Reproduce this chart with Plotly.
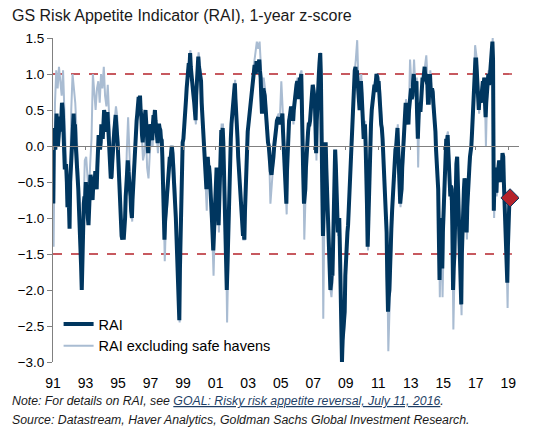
import pandas as pd
import plotly.graph_objects as go

# Readings from the chart, Jan 1991 - Feb 2019 (1-year z-score).
# rai: first-half-of-month reading; rai_late: second-half-of-month reading.
rai = [
    -0.8, 0.1, 0.27, 0.2, 0.13, 0.41, 0.45, 0.5, 0.0, -0.3, -0.5, -0.8,        # 1991
    -1.15, -0.3, 0.1, 0.45, 0.3, -0.1, -0.5, -0.9, -1.5, -2.0, -1.2, -0.7,     # 1992
    -0.5, -0.85, -1.1, -0.6, -0.45, -0.75, -0.5, -0.35, -0.6, -0.1, 0.1, 0.05, # 1993
    0.25, 0.35, 0.45, 0.2, 0.47, 0.1, -0.3, -0.43, -0.15, 0.2, 0.43, 0.2,      # 1994
    -0.2, -0.6, -1.15, -1.3, -1.3, -1.0, -0.5, -0.2, -0.45, -0.7, -1.0, -0.5,  # 1995
    -0.15, 0.2, 0.45, 0.68, 0.7, 0.4, 0.05, 0.3, 0.5, 0.2, -0.1, 0.15,         # 1996
    0.27, 0.08, 0.43, 0.5, 0.2, 0.04, 0.31, 0.22, 0.08, -0.5, -1.3, -0.9,      # 1997
    -0.7, -0.35, -0.15, -0.08, -0.1, -0.3, -0.7, -1.3, -2.0, -2.42, -1.0, -0.1,# 1998
    0.1, 0.35, 0.65, 1.0, 1.15, 1.29, 0.95, 0.85, 0.6, 0.36, 1.0, 1.24,        # 1999
    1.05, 0.9, 0.4, 0.05, -0.25, -0.6, -0.15, -0.3, -0.55, -1.0, -1.45, -1.0,  # 2000
    -0.47, -0.35, -1.1, -0.4, 0.22, 0.25, -0.3, -0.9, -2.0, -1.2, -0.45, 0.1,  # 2001
    0.45, 0.7, 0.87, 0.5, 0.1, -0.35, -0.75, -1.0, -1.25, -1.3, -0.5, 0.05,    # 2002
    0.3, 0.5, 0.65, 0.9, 1.0, 1.1, 1.18, 1.05, 1.2, 0.95, 0.45, 0.8,           # 2003
    0.7, 0.45, 0.2, 0.0, -0.25, -0.4, -0.2, 0.0, 0.22, 0.35, 0.4, 0.35,        # 2004
    0.3, 0.45, 0.0, -0.6, -0.8, 0.0, 0.35, 0.45, 0.5, 0.35, 0.65, 0.8,         # 2005
    0.9, 0.65, 0.95, 1.0, 0.3, -0.8, -0.6, 0.0, 0.2, 0.3, 0.45, 0.75,          # 2006
    0.8, 0.6, -0.1, 0.75, 1.0, 1.29, 0.5, -1.25, -0.5, 0.05, -0.7, -1.2,       # 2007
    -1.8, -1.9, -1.8, -0.9, -0.05, -0.5, -1.2, -1.0, -2.0, -3.0, -2.6, -2.3,   # 2008
    -1.5, -1.2, -0.9, -0.3, 0.2, 0.6, 0.9, 1.1, 1.05, 0.7, 0.5, 0.9,           # 2009
    0.5, 0.1, 0.3, -0.3, -1.4, -0.6, 0.1, 0.5, 0.75, 0.85, 0.9, 0.95,          # 2010
    0.9, 0.7, 0.3, 0.1, -0.3, -0.8, -1.2, -2.3, -2.0, -1.3, -0.9, -0.6,        # 2011
    -0.2, 0.0, 0.25, -0.3, -0.8, -0.6, -0.1, 0.2, 0.6, 0.45, 0.3, 0.6,         # 2012
    0.8, 0.7, 1.0, 0.75, 0.9, 0.1, 0.6, 0.5, 0.85, 0.9, 1.1, 1.0,              # 2013
    0.85, 0.6, 1.0, 0.7, 0.75, 0.5, 0.2, -0.3, -0.6, -1.86, -1.0, -1.7,        # 2014
    -0.9, -0.2, 0.1, 0.15, -0.2, -0.7, -0.6, -2.0, -1.5, -0.4, -0.15, -0.7,    # 2015
    -1.6, -2.2, -1.0, -0.6, -0.5, -1.2, -0.5, -0.3, -0.1, 0.2, 0.7, 1.1,       # 2016
    1.2, 0.95, 0.5, 0.7, 0.75, 0.9, 0.95, 0.4, 0.8, 1.0, 0.9, 1.2,             # 2017
    1.45, -0.9, -0.3, -0.65, -0.4, -0.2, -0.5, -0.3, -0.15, -0.9, -1.2, -1.9,  # 2018
    -0.9, -0.72,                                                               # 2019
]

rai_late = [
    0.25, -0.05, 0.45, 0.0, 0.4, 0.2, 0.6, 0.15, -0.3, -0.25, -0.85, -0.75,    # 1991
    -0.5, -0.05, 0.35, 0.25, 0.05, -0.4, -0.6, -1.3, -1.65, -1.5, -0.8, -0.75, # 1992
    -0.75, -1.0, -0.8, -0.4, -0.7, -0.55, -0.55, -0.5, -0.3, 0.15, -0.05, 0.3, # 1993
    0.1, 0.5, 0.25, 0.35, 0.3, -0.1, -0.45, -0.25, 0.05, 0.35, 0.3, 0.05,      # 1994
    -0.45, -0.95, -1.25, -1.15, -1.2, -0.7, -0.35, -0.35, -0.55, -0.9, -0.75, -0.3, # 1995
    0.05, 0.35, 0.55, 0.6, 0.5, 0.15, 0.2, 0.45, 0.35, 0.05, 0.05, 0.3,        # 1996
    0.15, 0.3, 0.35, 0.35, 0.1, 0.2, 0.25, 0.1, -0.15, -1.0, -1.05, -0.85,     # 1997
    -0.5, -0.2, -0.2, 0.0, -0.25, -0.45, -1.0, -1.7, -2.2, -1.7, -0.5, 0.05,   # 1998
    0.2, 0.55, 0.8, 1.1, 1.05, 1.1, 0.8, 0.7, 0.45, 0.7, 1.15, 1.1,            # 1999
    0.95, 0.6, 0.25, -0.15, -0.45, -0.35, -0.3, -0.4, -0.8, -1.2, -1.25, -0.7, # 2000
    -0.3, -0.75, -0.8, -0.05, 0.1, 0.05, -0.55, -1.4, -1.7, -0.8, -0.1, 0.3,   # 2001
    0.6, 0.8, 0.65, 0.3, -0.15, -0.5, -0.95, -1.1, -1.2, -0.9, -0.25, 0.2,     # 2002
    0.4, 0.55, 0.8, 0.95, 1.1, 1.0, 1.1, 1.15, 1.05, 0.7, 0.6, 0.75,           # 2003
    0.55, 0.35, 0.05, -0.15, -0.35, -0.25, -0.15, 0.15, 0.25, 0.4, 0.3, 0.4,   # 2004
    0.4, 0.2, -0.35, -0.75, -0.35, 0.2, 0.4, 0.55, 0.4, 0.5, 0.75, 0.85,       # 2005
    0.75, 0.85, 0.9, 0.7, -0.4, -0.7, -0.3, 0.1, 0.3, 0.35, 0.6, 0.85,         # 2006
    0.7, 0.2, 0.35, 0.9, 1.15, 1.0, -0.5, -0.9, -0.2, -0.3, -1.0, -1.5,        # 2007
    -2.0, -1.75, -1.4, -0.4, -0.25, -0.9, -1.05, -1.4, -2.6, -2.7, -2.45, -1.8,# 2008
    -1.35, -1.1, -0.6, 0.0, 0.45, 0.7, 1.05, 1.0, 0.85, 0.55, 0.75, 0.75,      # 2009
    0.25, 0.25, 0.05, -0.8, -1.0, -0.2, 0.3, 0.6, 0.85, 0.75, 1.0, 0.85,       # 2010
    0.8, 0.45, 0.25, -0.1, -0.55, -1.0, -1.8, -2.1, -1.6, -1.15, -0.7, -0.45,  # 2011
    -0.05, 0.2, 0.0, -0.6, -0.7, -0.3, 0.1, 0.45, 0.5, 0.35, 0.5, 0.75,        # 2012
    0.65, 0.9, 0.85, 0.85, 0.45, 0.35, 0.5, 0.7, 0.95, 1.0, 0.95, 0.9,         # 2013
    0.6, 0.85, 0.8, 0.8, 0.6, 0.35, -0.05, -0.45, -1.2, -1.3, -1.3, -1.2,      # 2014
    -0.5, -0.05, 0.0, -0.05, -0.5, -0.55, -1.1, -1.7, -0.9, -0.25, -0.45, -1.2,# 2015
    -2.0, -1.5, -0.75, -0.45, -0.8, -0.85, -0.4, -0.15, 0.0, 0.45, 0.95, 1.2,  # 2016
    1.05, 0.7, 0.65, 0.6, 0.85, 0.8, 0.65, 0.6, 0.9, 0.85, 1.05, 1.3,          # 2017
    1.2, -0.5, -0.55, -0.35, -0.3, -0.45, -0.2, -0.1, -0.5, -0.7, -1.5, -1.4,  # 2018
    -0.8,                                                                      # 2019
]

rai_ex_safe_havens = [
    -1.4, 0.6, 1.05, 0.8, 1.1, 0.9, 0.7, 1.05, 0.3, -0.1, -0.4, -0.9,          # 1991
    -0.8, 0.5, 1.0, 0.8, 0.6, 0.2, -0.2, -0.6, -1.2, -1.75, -0.9, -0.2,        # 1992
    -0.15, -0.45, -0.7, -0.25, 0.1, 1.0, 0.7, 0.5, 0.8, 0.9, 0.6, 1.0,         # 1993
    0.8, 1.1, 0.7, 0.55, 0.85, 0.4, 0.0, -0.2, 0.2, 0.35, 0.55, 0.4,           # 1994
    0.0, -0.5, -1.1, -1.25, -1.25, -0.9, -0.1, 0.4, -0.1, -0.5, -1.05, -0.3,   # 1995
    -0.1, 0.25, 0.45, 0.6, 0.55, 0.2, -0.2, -0.1, 0.25, -0.3, -0.45, -0.1,     # 1996
    0.15, 0.0, 0.35, 0.45, 0.1, -0.1, 0.25, 0.2, 0.0, -0.6, -1.6, -1.0,        # 1997
    -0.8, -0.3, -0.1, 0.0, -0.05, -0.25, -0.65, -1.3, -2.0, -2.45, -0.95, -0.05,# 1998
    0.15, 0.4, 0.7, 1.05, 1.2, 1.33, 1.0, 0.8, 0.5, 0.3, 1.05, 1.3,            # 1999
    1.1, 0.95, 0.45, 0.0, -0.35, -0.9, -0.2, -0.3, -0.6, -1.1, -1.8, -1.1,     # 2000
    -0.5, -0.4, -1.2, -0.45, 0.3, 0.3, -0.35, -0.95, -2.45, -1.25, -0.5, 0.15, # 2001
    0.5, 0.75, 0.92, 0.55, 0.05, -0.4, -0.8, -1.0, -1.3, -1.3, -0.5, 0.05,     # 2002
    0.35, 0.55, 0.75, 1.0, 1.15, 1.3, 1.45, 1.35, 1.45, 1.1, 0.6, 0.95,        # 2003
    0.8, 0.5, 0.15, -0.1, -0.8, -0.5, -0.3, -0.05, 0.25, 0.4, 0.45, 0.4,       # 2004
    0.9, 0.5, 0.0, -0.7, -0.95, 0.05, 0.4, 0.5, 0.55, 0.3, 0.7, 0.85,          # 2005
    0.95, 0.7, 1.0, 1.05, 0.25, -1.3, -0.6, 0.0, 0.2, 0.3, 0.5, 0.8,           # 2006
    0.85, 0.65, -0.2, 0.8, 1.05, 1.3, 0.5, -2.4, -0.5, 0.0, -0.8, -1.3,        # 2007
    -1.95, -2.1, -1.85, -0.95, -0.1, -0.55, -1.25, -1.0, -2.05, -3.0, -2.65, -2.4, # 2008
    -1.5, -1.2, -0.9, -0.25, 0.25, 0.7, 1.0, 1.2, 1.47, 0.85, 0.55, 1.0,       # 2009
    0.55, 0.15, 0.35, -0.3, -1.45, -0.6, 0.1, 0.55, 0.8, 0.9, 0.95, 1.0,       # 2010
    0.95, 0.75, 0.3, 0.1, -0.35, -0.8, -1.2, -2.85, -2.1, -1.3, -0.9, -0.6,    # 2011
    -0.2, 0.05, 0.3, -0.35, -0.85, -0.6, -0.1, 0.2, 0.65, 0.5, 0.35, 1.2,      # 2012
    0.85, 0.75, 1.2, 0.8, 0.95, -0.3, 0.6, 0.55, 0.9, 0.95, 1.15, 1.26,        # 2013
    0.9, 0.65, 1.05, 0.75, 0.8, 0.55, 0.2, -0.3, -0.65, -2.1, -1.05, -2.1,     # 2014
    -0.95, -0.2, 0.12, 0.2, -0.2, -0.75, -0.6, -2.55, -1.6, -0.4, -0.15, -0.75,# 2015
    -1.7, -2.35, -1.0, -0.6, -0.5, -1.3, -0.5, -0.3, -0.1, 0.2, 0.75, 1.4,     # 2016
    1.25, 0.95, 0.45, 0.7, 0.75, 0.9, 0.95, 0.0, 0.8, 1.05, 0.9, 1.25,         # 2017
    1.5, -1.0, -0.3, -0.7, -0.4, -0.2, -0.5, -0.3, -0.15, -1.0, -1.3, -2.25,   # 2018
    -0.9, -0.72,                                                               # 2019
]

month_starts = pd.date_range("1991-01-01", periods=len(rai), freq="MS")

# Interleave early/late readings of each month on the date axis
rai_x, rai_y = [], []
for i, d in enumerate(month_starts):
    rai_x.append(d + pd.Timedelta(days=7))
    rai_y.append(rai[i])
    if i < len(rai_late):
        rai_x.append(d + pd.Timedelta(days=21))
        rai_y.append(rai_late[i])
ex_x = [d + pd.Timedelta(days=14) for d in month_starts]

threshold_levels = [1.0, -1.5]

DARK = "#00365F"
LIGHT = "#A9BCD2"
RED = "#B5232B"
GREY = "#808080"
FONT = "Liberation Sans, Arial, sans-serif"

fig = go.Figure()

fig.add_trace(go.Scatter(
    x=ex_x, y=rai_ex_safe_havens, mode="lines", name="RAI excluding safe havens",
    line=dict(color=LIGHT, width=2), legendrank=2, hoverinfo="skip"))
fig.add_trace(go.Scatter(
    x=rai_x, y=rai_y, mode="lines", name="RAI",
    line=dict(color=DARK, width=4), legendrank=1, hoverinfo="skip"))
fig.add_trace(go.Scatter(
    x=[rai_x[-1]], y=[rai_y[-1]], mode="markers", xaxis="x2", showlegend=False,
    marker=dict(symbol="diamond", size=14, color=RED, line=dict(color=DARK, width=1)),
    hoverinfo="skip"))

for lvl in threshold_levels:
    fig.add_shape(type="line", xref="paper", x0=0, x1=1, yref="y", y0=lvl, y1=lvl,
                  line=dict(color=RED, width=1.3, dash="dash"), layer="below")

ymin, ymax = -3.0, 1.5

fig.update_layout(
    width=537, height=430,
    margin=dict(l=53, r=18, t=38, b=68),
    paper_bgcolor="white", plot_bgcolor="white",
    font=dict(family=FONT, color="#000000"),
    showlegend=True,
    legend=dict(x=0.012, y=0.0, xanchor="left", yanchor="bottom",
                bgcolor="rgba(0,0,0,0)", font=dict(size=14.5, color="#000000"),
                tracegroupgap=0, itemwidth=30),
    xaxis=dict(type="date", range=["1991-01-01", "2019-08-28"],
               tick0="1991-01-01", dtick="M24", tickformat="%y",
               showgrid=False, zeroline=False, showline=False, ticks="",
               ticklabelstandoff=11, tickfont=dict(size=14)),
    xaxis2=dict(type="date", overlaying="x", matches="x", anchor="free",
                position=(0 - ymin) / (ymax - ymin), side="bottom",
                tick0="1991-01-01", dtick="M24", showticklabels=False,
                showgrid=False, zeroline=False, showline=True,
                linecolor=GREY, linewidth=1, ticks="outside", ticklen=3,
                tickcolor=GREY),
    yaxis=dict(range=[ymin, ymax], tick0=-3.0, dtick=0.5, tickformat=".1f",
               showgrid=False, zeroline=False, showline=True, linecolor=GREY,
               linewidth=1, ticks="outside", ticklen=5, tickcolor=GREY,
               ticklabelstandoff=0, tickfont=dict(size=13.5)),
)

fig.add_annotation(text="GS Risk Appetite Indicator (RAI), 1-year z-score",
                   xref="paper", yref="paper", x=-0.092, y=1.068,
                   xanchor="left", yanchor="middle", showarrow=False,
                   font=dict(size=16, color="#1a1a1a"))
fig.add_annotation(text="<i>Note: For details on RAI, see <span style='color:#1F3F66'><u>GOAL: Risky risk appetite reversal, July 11, 2016</u></span>.</i>",
                   xref="paper", yref="paper", x=-0.092, y=-0.121,
                   xanchor="left", yanchor="middle", showarrow=False,
                   font=dict(size=12.3, color="#1a1a1a"))
fig.add_annotation(text="<i>Source: Datastream, Haver Analytics, Goldman Sachs Global Investment Research.</i>",
                   xref="paper", yref="paper", x=-0.092, y=-0.179,
                   xanchor="left", yanchor="middle", showarrow=False,
                   font=dict(size=12.3, color="#1a1a1a"))

fig.write_html("out.html", config={"displayModeBar": False},
               post_script="document.body.style.margin='0px';")
